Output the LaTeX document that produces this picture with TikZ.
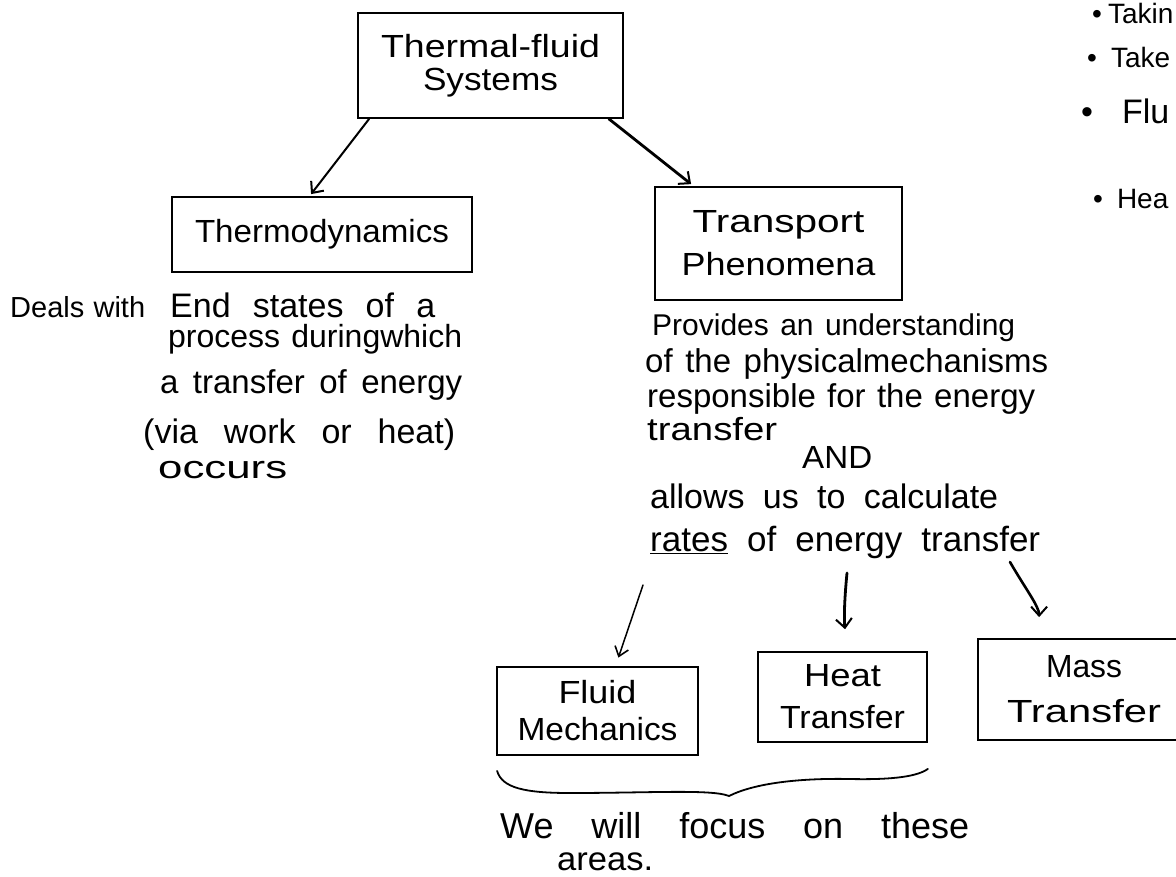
\documentclass[tikz,border=0pt]{standalone}
\usepackage{fontspec}
\setmainfont{Liberation Sans}
\usepackage{graphicx}
\usetikzlibrary{arrows.meta}
\newcommand{\hwtext}[2]{\resizebox{#1pt}{\height}{#2}}
\newcommand{\hwspread}[2]{\makebox[#1pt][s]{#2}}
\newcommand{\hwsize}[1]{\fontsize{#1}{#1}\selectfont}
\begin{document}
\begin{tikzpicture}[x=1pt,y=-1pt,
  box/.style={draw, line width=1.8pt, inner sep=0pt, align=center,
              font=\fontsize{32}{38}\selectfont},
  txt/.style={inner sep=0pt, anchor=base west, font=\hwsize{30}},
  bul/.style={inner sep=0pt, anchor=base west, font=\hwsize{28}},
  arr/.style={-{Straight Barb[length=9pt,width=16pt,line width=2pt]},
              line width=2.4pt, line cap=round},
  thinarr/.style={-{Straight Barb[length=9pt,width=14pt,line width=1.6pt]},
              line width=1.5pt, line cap=round},
  brace/.style={line width=1.8pt, line cap=round}]
\useasboundingbox (0,0) rectangle (1176,876);
\fill[white] (0,0) rectangle (1176,876);
\clip (0,0) rectangle (1176,876);

% boxes
\node[box, minimum width=265pt, minimum height=105pt] (thermal) at (490.5,65.5)
  {\hwtext{219}{Thermal-fluid}\\[-5pt]\hwtext{135}{Systems}};
\node[box, minimum width=300pt, minimum height=75pt] (thermo) at (322,234.5)
  {\hwtext{254}{Thermodynamics}};
\node[box, minimum width=247pt, minimum height=113pt] (transport) at (778.5,243.5)
  {\hwtext{172}{Transport}\\[5pt]\hwtext{194}{Phenomena}};
\node[box, minimum width=201pt, minimum height=88pt] (fluid) at (597.5,711)
  {\hwtext{78}{Fluid}\\[-1pt]\hwtext{160}{Mechanics}};
\node[box, minimum width=169pt, minimum height=90pt] (heat) at (842.5,697)
  {\hwtext{77}{Heat}\\[4pt]\hwtext{125}{Transfer}};
\node[box, minimum width=212pt, minimum height=101pt] (mass) at (1084,689.5)
  {\hwtext{76}{Mass}\\[7pt]\hwtext{154}{Transfer}};

% left description
\node[txt, font=\hwsize{29}] (deals) at (10,317) {\hwspread{135}{Deals with}};
\node[txt, font=\hwsize{34}] (tda) at (170,317) {\hwspread{265}{End states of a}};
\node[txt, font=\hwsize{32}] (tdb) at (168,347) {\hwspread{294}{process duringwhich}};
\node[txt, font=\hwsize{33}] (tdc) at (160,393) {\hwspread{302}{a transfer of energy}};
\node[txt, font=\hwsize{34}] (tdd) at (143,443) {\hwspread{312}{(via work or heat)}};
\node[txt, font=\hwsize{32}] (tde) at (158,478) {\hwtext{129}{occurs}};

% right description
\node[txt, font=\hwsize{30}] (tpa) at (652,335) {\hwspread{363}{Provides an understanding}};
\node[txt, font=\hwsize{33}] (tpb) at (645,372) {\hwspread{403}{of the physicalmechanisms}};
\node[txt, font=\hwsize{33}] (tpc) at (647,407) {\hwspread{388}{responsible for the energy}};
\node[txt, font=\hwsize{32}] (tpd) at (647,440) {\hwtext{130}{transfer}};
\node[txt, font=\hwsize{32}] (tpe) at (802,468) {\hwtext{70}{AND}};
\node[txt, font=\hwsize{34}] (tpf) at (650,508) {\hwspread{348}{allows us to calculate}};
\node[txt, font=\hwsize{35}] (tpg) at (650,551) {\hwspread{390}{\underline{rates} of energy transfer}};

% bottom note
\node[txt, font=\hwsize{36}] (focus) at (500,838) {\hwspread{469}{We will focus on these}};
\node[txt, font=\hwsize{33}] (areas) at (557,870) {\hwtext{96}{areas.}};

% top-right list (reaching the page edge)
\node[bul] (la) at (1092,23) {•\hspace{6pt}Takin};
\node[bul] (lb) at (1087,67) {•\hspace{14pt}Take};
\node[bul, font=\hwsize{34}] (lc) at (1081,123) {•\hspace{29pt}Flu};
\node[bul] (ld) at (1093,208) {•\hspace{14pt}Hea};

% arrow start points below the text
\coordinate (sa) at (643,585);
\coordinate (sb) at (847,573);
\coordinate (sc) at (1010,562);

% connectors
\draw[arr, line width=2pt] ([xshift=12pt]thermal.south west) -- ([xshift=140pt,yshift=2pt]thermo.north west);
\draw[arr, line width=2.8pt] ([xshift=-15pt]thermal.south east) -- ([xshift=37pt,yshift=2pt]transport.north west);
\draw[thinarr, shorten >=9pt] (sa) -- ([xshift=18pt]fluid.north);
\draw[arr, line width=2.8pt, shorten >=22pt] (sb) to[bend right=6] ([xshift=5pt]heat.north);
\draw[arr, line width=2.6pt, shorten >=21pt] (sc) to[out=-60,in=90] ([xshift=62pt]mass.north west);

% brace under the two boxes
\draw[brace] ([xshift=1pt,yshift=-15pt]fluid.south west)
  .. controls (502,788) and (525,793) .. (570,793)
  .. controls (650,793) and (712,789) .. (729,796)
  .. controls (755,783) and (800,778) .. (850,779)
  .. controls (895,780) and (918,776) .. ([yshift=-26pt]heat.south east);
\end{tikzpicture}
\end{document}
